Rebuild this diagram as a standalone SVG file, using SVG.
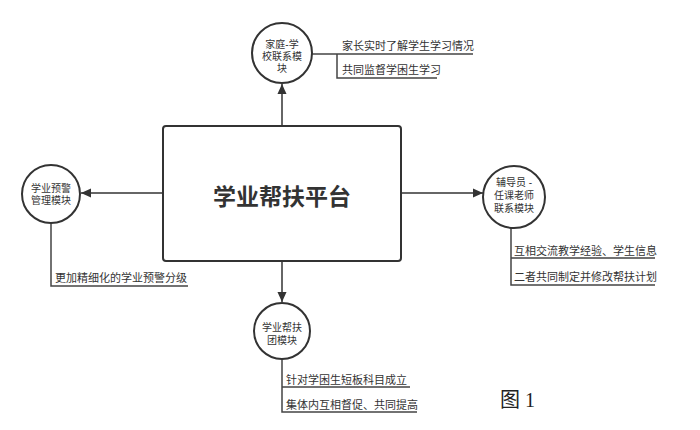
<svg xmlns="http://www.w3.org/2000/svg" width="700" height="430" viewBox="0 0 700 430">
<defs>
<marker id="ah" markerWidth="10" markerHeight="12" refX="11" refY="5" orient="auto" markerUnits="userSpaceOnUse" viewBox="0 0 11 10">
<path d="M0,0 L11,5 L0,10 Z" fill="#333"/>
</marker>
<style>
.node{fill:#fff;stroke:#333;stroke-width:2}
.ct{font-family:"Liberation Sans","Noto Sans CJK SC",sans-serif;font-size:10px;fill:#333;text-anchor:middle}
.bt{font-family:"Liberation Sans","Noto Sans CJK SC",sans-serif;font-size:11px;fill:#333}
.br{fill:none;stroke:#444;stroke-width:1.5}
.ar{fill:none;stroke:#333;stroke-width:1.5;marker-end:url(#ah)}
</style>
</defs>
<rect width="700" height="430" fill="#fff"/>
<g id="connectors">
<line class="ar" x1="282" y1="126" x2="282" y2="84"/>
<line class="ar" x1="163" y1="193" x2="81" y2="193"/>
<line class="ar" x1="401" y1="193" x2="483" y2="193"/>
<line class="ar" x1="282" y1="261" x2="282" y2="302"/>
<path class="br" d="M312,54 H473 M337,54 V78 H437"/>
<path class="br" d="M51,223 V286 H188"/>
<path class="br" d="M511,228 V285 H655 M511,258 H655"/>
<path class="br" d="M282,359 V412 H417 M282,387 H410"/>
</g>
<g id="main">
<rect class="node" x="163" y="126" width="238" height="135" rx="3"/>
<text x="282" y="205" font-family="'Noto Sans CJK SC','Noto Sans',sans-serif" font-size="23" font-weight="bold" fill="#333" text-anchor="middle">学业帮扶平台</text>
</g>
<g id="family">
<circle class="node" cx="282" cy="53" r="30"/>
<text class="ct" x="282" y="48">家庭-学</text>
<text class="ct" x="282" y="60">校联系模</text>
<text class="ct" x="282" y="72">块</text>
<text class="bt" x="342" y="50">家长实时了解学生学习情况</text>
<text class="bt" x="342" y="74">共同监督学困生学习</text>
</g>
<g id="warning">
<circle class="node" cx="51" cy="194" r="29"/>
<text class="ct" x="51" y="192">学业预警</text>
<text class="ct" x="51" y="204">管理模块</text>
<text class="bt" x="55" y="282">更加精细化的学业预警分级</text>
</g>
<g id="counselor">
<circle class="node" cx="514" cy="197" r="31"/>
<text class="ct" x="514" y="186">辅导员 -</text>
<text class="ct" x="514" y="199">任课老师</text>
<text class="ct" x="514" y="212">联系模块</text>
<text class="bt" x="514" y="255">互相交流教学经验、学生信息</text>
<text class="bt" x="514" y="281">二者共同制定并修改帮扶计划</text>
</g>
<g id="team">
<circle class="node" cx="282" cy="331" r="28"/>
<text class="ct" x="282" y="331">学业帮扶</text>
<text class="ct" x="282" y="344">团模块</text>
<text class="bt" x="286" y="384">针对学困生短板科目成立</text>
<text class="bt" x="286" y="409">集体内互相督促、共同提高</text>
</g>
<text x="500" y="407" font-family="'Liberation Serif','Noto Sans CJK SC',serif" font-size="20" fill="#222">图 1</text>
</svg>
